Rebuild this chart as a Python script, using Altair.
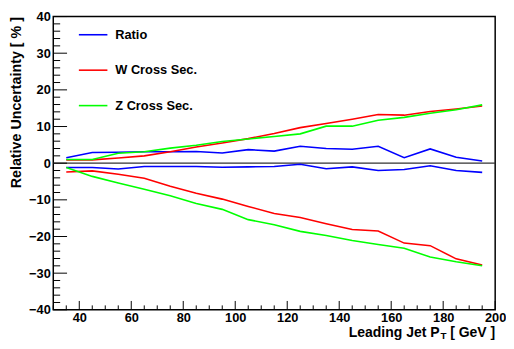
import altair as alt
import pandas as pd

# ---- data ----
pt = [35, 45, 55, 65, 75, 85, 95, 105, 115, 125, 135, 145, 155, 165, 175, 185, 195]

ratio_up = [1.5, 2.9, 3.0, 3.1, 3.1, 3.2, 2.8, 3.7, 3.3, 4.6, 4.0, 3.8, 4.6, 1.5, 3.9, 1.6, 0.6]
ratio_down = [-1.2, -1.2, -1.6, -0.9, -0.9, -0.9, -1.1, -1.0, -0.9, -0.3, -1.5, -1.0, -2.0, -1.7, -0.7, -2.0, -2.5]
w_up = [0.9, 0.9, 1.4, 2.0, 3.1, 4.4, 5.5, 6.7, 8.1, 9.7, 10.8, 12.0, 13.3, 13.1, 14.1, 14.8, 15.6]
w_down = [-2.4, -2.1, -3.0, -4.1, -6.3, -8.2, -9.8, -11.8, -13.7, -14.8, -16.5, -18.1, -18.5, -21.8, -22.5, -26.1, -27.8]
z_up = [1.0, 1.0, 2.7, 3.1, 4.1, 4.9, 5.9, 6.6, 7.3, 8.0, 10.1, 10.1, 11.7, 12.5, 13.6, 14.6, 15.9]
z_down = [-1.2, -3.6, -5.4, -7.1, -8.9, -11.0, -12.6, -15.4, -16.8, -18.6, -19.7, -21.1, -22.2, -23.2, -25.6, -26.9, -28.0]

series_names = ["Ratio", "W Cross Sec.", "Z Cross Sec."]
series_colors = ["#0000ff", "#ff0000", "#00ff00"]

x_major = [40, 60, 80, 100, 120, 140, 160, 180, 200]
x_minor = [30, 35, 45, 50, 55, 65, 70, 75, 85, 90, 95, 105, 110, 115, 125, 130, 135,
           145, 150, 155, 165, 170, 175, 185, 190, 195]
y_major = [-40, -30, -20, -10, 0, 10, 20, 30, 40]
y_minor = [v for v in range(-38, 40, 2) if v % 10 != 0]

y_title = "Relative Uncertainty [ % ]"
x_title_main = ["Leading Jet P"]
x_title_sub = ["T"]
x_title_unit = ["[ GeV ]"]

# ---- build table ----
rows = []
for name, up, down in [("Ratio", ratio_up, ratio_down),
                       ("W Cross Sec.", w_up, w_down),
                       ("Z Cross Sec.", z_up, z_down)]:
    for band, vals in (("up", up), ("down", down)):
        for x, v in zip(pt, vals):
            rows.append({"pt": x, "unc": v, "series": name, "band": f"{name}-{band}"})
df = pd.DataFrame(rows)

W, H = 449, 298
FONT = "Liberation Sans"

xscale = alt.Scale(domain=[30, 200], nice=False, zero=False)
yscale = alt.Scale(domain=[-40, 40], nice=False, zero=False)

x_axis = alt.Axis(values=x_major, title=None, ticks=False, tickSize=0, domain=False,
                  grid=False, labelFont=FONT, labelFontWeight="bold", labelFontSize=13,
                  labelColor="black", labelPadding=2, labelFlush=False, labelOverlap=False)
y_axis = alt.Axis(values=y_major, title=y_title, ticks=False, tickSize=0, domain=False,
                  grid=False, labelFont=FONT, labelFontWeight="bold", labelFontSize=13,
                  labelColor="black", labelPadding=3, labelOverlap=False,
                  titleFont=FONT, titleFontWeight="bold", titleFontSize=14.5,
                  titleColor="black", titleAnchor="end", titlePadding=5)

lines = alt.Chart(df).mark_line(strokeWidth=1.6).encode(
    x=alt.X("pt:Q", scale=xscale, axis=x_axis),
    y=alt.Y("unc:Q", scale=yscale, axis=y_axis),
    color=alt.Color("series:N", scale=alt.Scale(domain=series_names, range=series_colors),
                    legend=alt.Legend(title=None, orient="none", legendX=25, legendY=3,
                                      symbolType="stroke", symbolSize=841, symbolStrokeWidth=1.6,
                                      labelFont=FONT, labelFontWeight="bold", labelFontSize=13,
                                      labelColor="black", labelOffset=7, rowPadding=13,
                                      padding=0)),
    detail="band:N",
)

zero = alt.Chart(pd.DataFrame({"z": [0]})).mark_rule(color="#333333", strokeWidth=1.3).encode(
    y=alt.Y("z:Q", scale=yscale, axis=y_axis)
)

ymaj = alt.Chart(pd.DataFrame({"v": y_major})).mark_rule(color="black", strokeWidth=1).encode(
    y=alt.Y("v:Q", scale=yscale, axis=y_axis), x=alt.value(0), x2=alt.value(14))
ymin = alt.Chart(pd.DataFrame({"v": y_minor})).mark_rule(color="black", strokeWidth=1).encode(
    y=alt.Y("v:Q", scale=yscale, axis=y_axis), x=alt.value(0), x2=alt.value(7))
xmaj = alt.Chart(pd.DataFrame({"v": x_major})).mark_rule(color="black", strokeWidth=1).encode(
    x=alt.X("v:Q", scale=xscale, axis=x_axis), y=alt.value(H), y2=alt.value(H - 9))
xmin = alt.Chart(pd.DataFrame({"v": x_minor})).mark_rule(color="black", strokeWidth=1).encode(
    x=alt.X("v:Q", scale=xscale, axis=x_axis), y=alt.value(H), y2=alt.value(H - 4.5))

t_main = alt.Chart(pd.DataFrame({"t": x_title_main})).mark_text(
    font=FONT, fontWeight="bold", fontSize=14.2, align="right", baseline="alphabetic", color="black"
).encode(text="t:N", x=alt.value(392.5), y=alt.value(325.5))
t_sub = alt.Chart(pd.DataFrame({"t": x_title_sub})).mark_text(
    font=FONT, fontWeight="bold", fontSize=10, align="left", baseline="alphabetic", color="black"
).encode(text="t:N", x=alt.value(393.5), y=alt.value(327.5))
t_unit = alt.Chart(pd.DataFrame({"t": x_title_unit})).mark_text(
    font=FONT, fontWeight="bold", fontSize=14.2, align="right", baseline="alphabetic", color="black"
).encode(text="t:N", x=alt.value(449), y=alt.value(325.5))

chart = alt.layer(zero, lines, ymaj, ymin, xmaj, xmin, t_main, t_sub, t_unit).properties(
    width=W, height=H,
    padding={"left": 46, "top": 6, "right": 11, "bottom": 29},
    autosize=alt.AutoSizeParams(type="none"),
    background="white",
).configure_view(stroke="black", strokeWidth=1.5)

chart.save("out.html", embed_options={"renderer": "svg", "actions": False})
